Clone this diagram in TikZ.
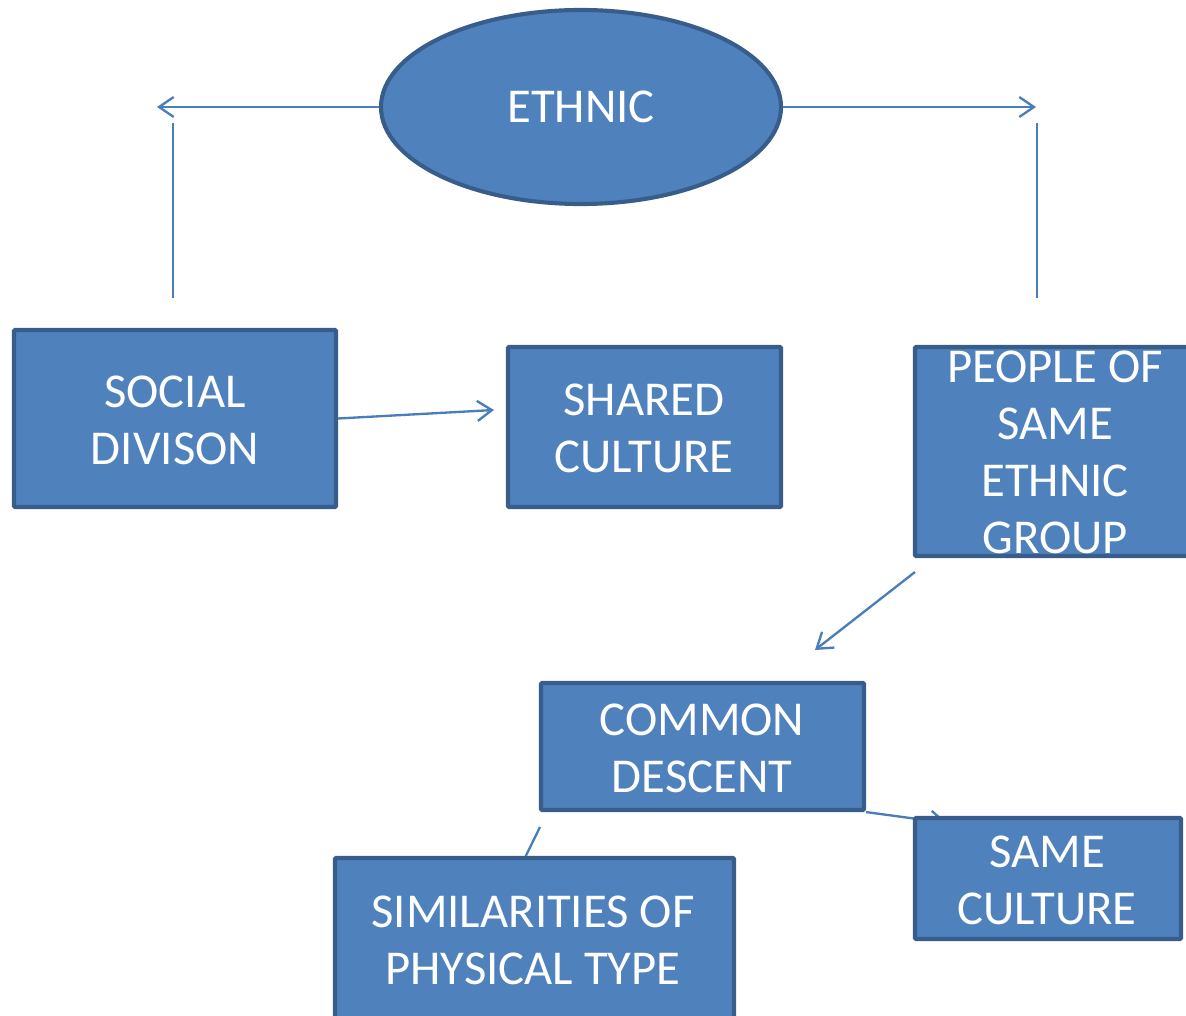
\documentclass[tikz,border=0pt]{standalone}
\usepackage{fontspec}
\setmainfont{Carlito}
\usetikzlibrary{shapes.geometric,arrows.meta}
\definecolor{boxfill}{HTML}{4F81BD}
\definecolor{boxedge}{HTML}{385D8A}
\definecolor{linkcol}{HTML}{4A7EBB}
\begin{document}
\begin{tikzpicture}[x=0.75pt,y=-0.75pt,
  box/.style={draw=boxedge,fill=boxfill,line width=3.1pt,rectangle,inner sep=0pt,rounded corners=0.8pt},
  oval/.style={draw=boxedge,fill=boxfill,line width=3.1pt,ellipse,inner sep=0pt},
  txt/.style={text=white,align=center,inner sep=0pt,font=\fontsize{36.5}{42.75}\selectfont},
  link/.style={draw=linkcol,line width=1.75pt},
  arr/.style={link,-{Straight Barb[length=11pt,width=15pt,line width=1.75pt]}}]
\useasboundingbox (0,0) rectangle (1186,1016);
\clip (0,0) rectangle (1186,1016);

% top oval
\node[oval,minimum width=300pt,minimum height=145.5pt] (eth) at (581,107) {};
\node[txt] at (581,107) {ETHNIC};

% free ends of the side connectors
\coordinate (lt) at (157,107);
\coordinate (lv1) at (173,123);
\coordinate (lv2) at (173,298);
\coordinate (rt) at (1036,107);
\coordinate (rv1) at (1037,123);
\coordinate (rv2) at (1037,298);
\draw[arr] (eth.west) -- (lt);
\draw[link] (lv1) -- (lv2);
\draw[arr] (eth.east) -- (rt);
\draw[link] (rv1) -- (rv2);

% connectors partly hidden by boxes
\coordinate (cdend) at (947,823);
\coordinate (simtop) at (540,827);
\coordinate (simin) at (518,872);

% boxes
\node[box,minimum width=241.5pt,minimum height=132.75pt] (soc) at (175,418.5) {};
\node[txt] at (175,420) {SOCIAL\\DIVISON};

\node[box,minimum width=204.75pt,minimum height=120pt] (shc) at (644.5,427) {};
\node[txt] at (644,428) {SHARED\\CULTURE};

\node[box,minimum width=213.75pt,minimum height=156.75pt] (peo) at (1057.5,451.5) {};
\node[txt] at (1055,452) {PEOPLE OF\\SAME\\ETHNIC\\GROUP};

\node[box,minimum width=242.25pt,minimum height=95.25pt] (cd) at (702.5,746.5) {};
\node[txt] at (702,748) {COMMON\\DESCENT};

\draw[arr] (cd.south east) -- (cdend);
\draw[link] (simtop) -- (simin);

\node[box,minimum width=199.5pt,minimum height=90.75pt] (sc) at (1048,878.5) {};
\node[txt] at (1047,880) {SAME\\CULTURE};

\node[box,minimum width=299.25pt,minimum height=129pt] (sim) at (534.5,944) {};
\node[txt] at (533,940) {SIMILARITIES OF\\PHYSICAL TYPE};

% remaining arrows
\coordinate (shcin) at (494,410);
\draw[arr] (soc.east) -- (shcin);
\coordinate (peoout) at (915,572);
\coordinate (cdin) at (815,650);
\draw[arr] (peoout) -- (cdin);
\end{tikzpicture}
\end{document}
